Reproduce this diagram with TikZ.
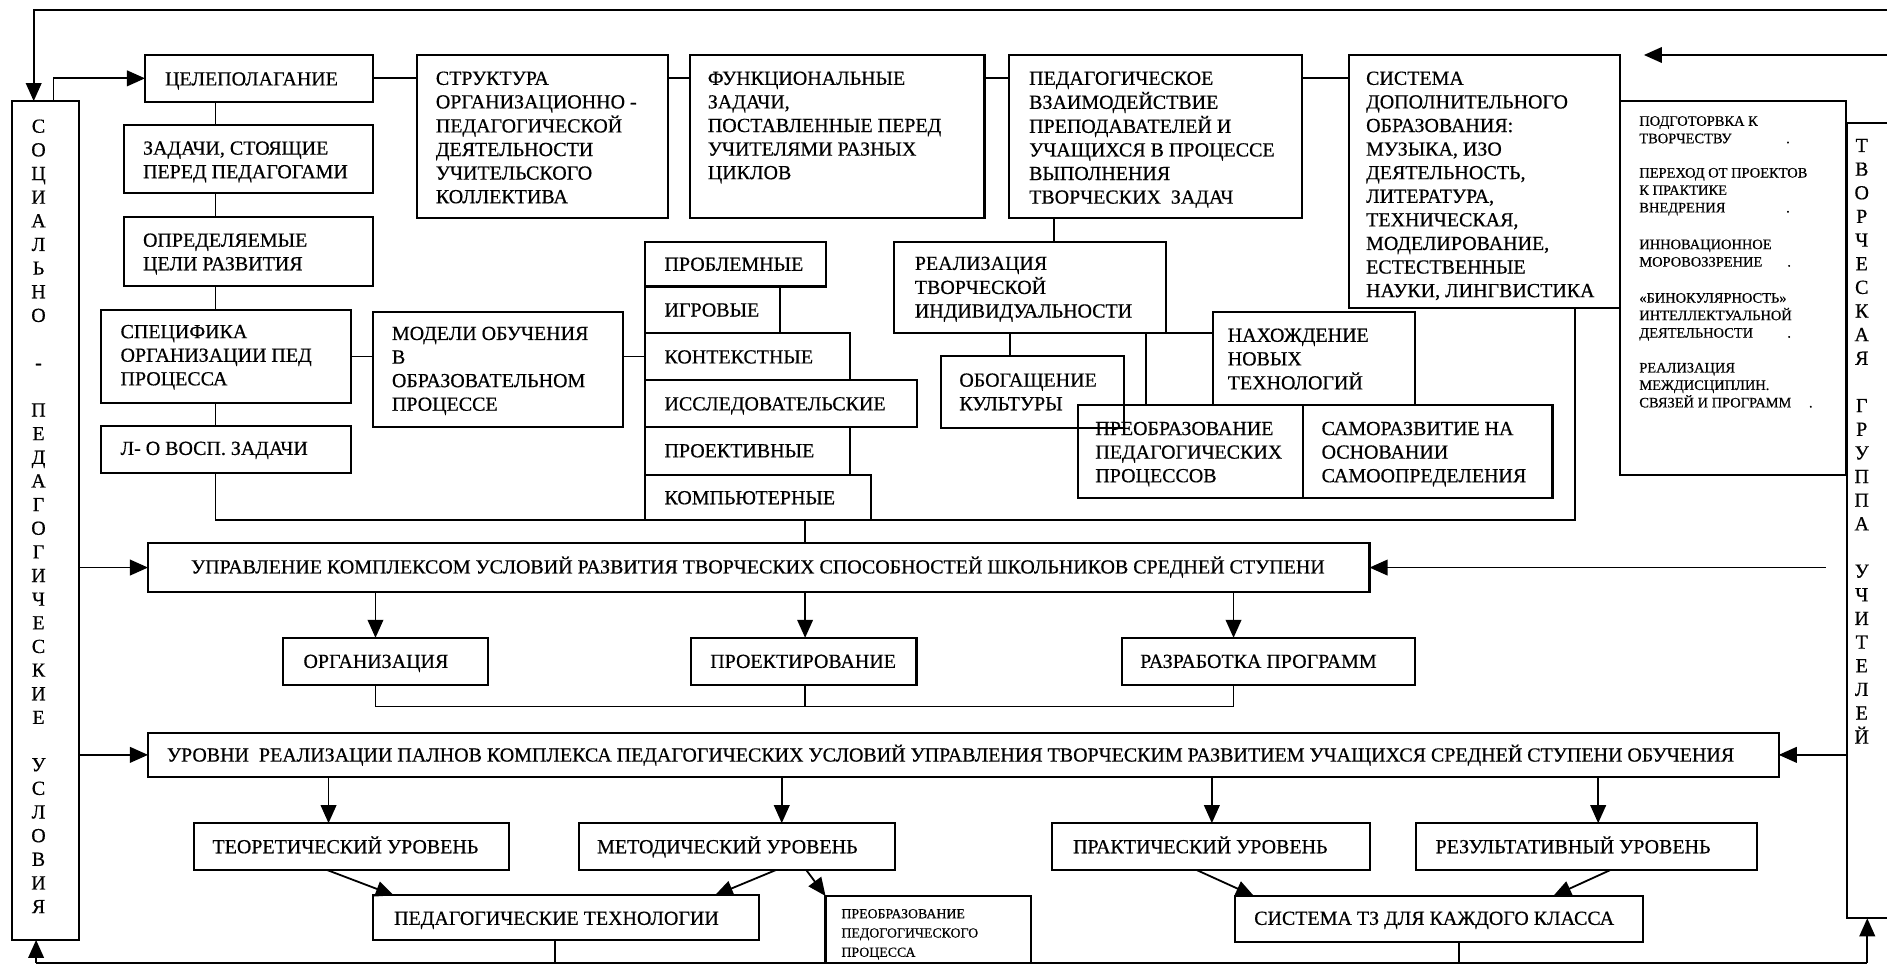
\documentclass[tikz,border=0pt]{standalone}
\usepackage{fontspec}
\setmainfont{Liberation Serif}[FakeBold=0.5]
\usetikzlibrary{arrows.meta,calc}
\newcommand{\tl}[1]{\begin{tabular}[t]{@{}l@{}}#1\end{tabular}}
\newcommand{\tc}[1]{\begin{tabular}[t]{@{}c@{}}#1\end{tabular}}
\newcommand{\bx}[5]{\node[box, minimum width={(#4)-(#2)}, minimum height={(#5)-(#3)}] (#1) at ({((#2)+(#4))/2},{((#3)+(#5))/2}) {};}
\tikzset{
  box/.style={draw, line width=1.8pt, inner sep=0pt, outer sep=0pt, rectangle},
  ln/.style={line width=1.5pt},
  arr/.style={line width=1.5pt, -{Triangle[length=15pt,width=13pt]}},
  txt/.style={inner sep=0pt, anchor=base west, font=\fontsize{16.6}{19.6}\selectfont},
  stxt/.style={inner sep=0pt, anchor=base west, font=\fontsize{12}{14.5}\selectfont},
  vtxt/.style={inner sep=0pt, anchor=base, font=\fontsize{16.6}{19.65}\selectfont},
}
\begin{document}
\begin{tikzpicture}[x=1pt,y=-1pt]
\useasboundingbox (0,0) rectangle (1568,803.5);
\clip (0,0) rectangle (1568,803.5);
% ---------- boxes ----------
\bx{cel}{120.5}{45.7}{310}{84.5}
\bx{str}{346.7}{45.7}{555}{181}
\bx{fun}{573.5}{45.7}{818}{181}
\bx{ped}{838.6}{45.7}{1082}{181}
\bx{sis}{1120.6}{45.7}{1346}{256}
\bx{lst}{1346}{84}{1534}{395}
\bx{zad}{103}{104}{310}{160.7}
\bx{opr}{103}{180}{310}{237.6}
\bx{spec}{84}{257.6}{292}{335}
\bx{lo}{84}{354}{292}{393}
\bx{mod}{310}{259}{518}{355}
\bx{prob}{536}{200.8}{686.5}{238}
\bx{igr}{536}{238}{648}{277}
\bx{kont}{536}{277}{706}{316}
\bx{issl}{536}{316}{762}{354.6}
\bx{prkt}{536}{354.6}{706}{394.7}
\bx{komp}{536}{394.7}{724}{432}
\bx{real}{743}{200.8}{968.6}{277}
\bx{obog}{782}{296}{934}{355.7}
\bx{nah}{1008}{259}{1176}{336.6}
\bx{preob}{896}{336.6}{1083}{414}
\bx{sam}{1083}{336.6}{1290}{414}
\bx{upr}{123}{451.5}{1138}{491.7}
\bx{org}{235}{530}{405.4}{569}
\bx{proj}{574}{530}{761.5}{569}
\bx{razr}{932}{530}{1176}{569}
\bx{urov}{123}{608.8}{1478}{645.7}
\bx{teor}{161}{684}{423}{723}
\bx{metod}{481}{684}{744}{723}
\bx{prakt}{874}{684}{1138.5}{723}
\bx{rez}{1176.7}{684}{1459.7}{723}
\bx{ptech}{309.7}{744}{630.5}{781}
\bx{preob2}{686}{744.5}{856.4}{800}
\bx{stz}{1026}{744.6}{1365}{782.5}
\bx{L}{10}{84}{65.5}{781}
\bx{R}{1535}{102}{1600}{763}
% ---------- texts ----------
\node[txt] (tcel) at (137,71) {\tl{ЦЕЛЕПОЛАГАНИЕ}};
\node[txt] (tstr) at (362,70.5) {\tl{СТРУКТУРА\\ОРГАНИЗАЦИОННО -\\ПЕДАГОГИЧЕСКОЙ\\ДЕЯТЕЛЬНОСТИ\\УЧИТЕЛЬСКОГО\\КОЛЛЕКТИВА}};
\node[txt] (tfun) at (588,70.5) {\tl{ФУНКЦИОНАЛЬНЫЕ\\ЗАДАЧИ,\\ПОСТАВЛЕННЫЕ ПЕРЕД\\УЧИТЕЛЯМИ РАЗНЫХ\\ЦИКЛОВ}};
\node[txt] (tped) at (855,70.5) {\tl{ПЕДАГОГИЧЕСКОЕ\\ВЗАИМОДЕЙСТВИЕ\\ПРЕПОДАВАТЕЛЕЙ И\\УЧАЩИХСЯ В ПРОЦЕССЕ\\ВЫПОЛНЕНИЯ\\ТВОРЧЕСКИХ~ ЗАДАЧ}};
\node[txt] (tsis) at (1135,70.5) {\tl{СИСТЕМА\\ДОПОЛНИТЕЛЬНОГО\\ОБРАЗОВАНИЯ:\\МУЗЫКА, ИЗО\\ДЕЯТЕЛЬНОСТЬ,\\ЛИТЕРАТУРА,\\ТЕХНИЧЕСКАЯ,\\МОДЕЛИРОВАНИЕ,\\ЕСТЕСТВЕННЫЕ\\НАУКИ, ЛИНГВИСТИКА}};
\node[txt] (tzad) at (118.7,128.5) {\tl{ЗАДАЧИ, СТОЯЩИЕ\\ПЕРЕД ПЕДАГОГАМИ}};
\node[txt] (topr) at (118.7,205) {\tl{ОПРЕДЕЛЯЕМЫЕ\\ЦЕЛИ РАЗВИТИЯ}};
\node[txt] (tspec) at (100,281) {\tl{СПЕЦИФИКА\\ОРГАНИЗАЦИИ ПЕД\\ПРОЦЕССА}};
\node[txt] (tlo) at (100,378) {\tl{Л- О ВОСП. ЗАДАЧИ}};
\node[txt] (tmod) at (325.5,282.5) {\tl{МОДЕЛИ ОБУЧЕНИЯ\\В\\ОБРАЗОВАТЕЛЬНОМ\\ПРОЦЕССЕ}};
\node[txt] (tprob) at (552,225) {ПРОБЛЕМНЫЕ};
\node[txt] (tigr) at (552,263) {ИГРОВЫЕ};
\node[txt] (tkont) at (552,302) {КОНТЕКСТНЫЕ};
\node[txt] (tissl) at (552,341) {ИССЛЕДОВАТЕЛЬСКИЕ};
\node[txt] (tprkt) at (552,380) {ПРОЕКТИВНЫЕ};
\node[txt] (tkomp) at (552,419) {КОМПЬЮТЕРНЫЕ};
\node[txt] (treal) at (760,224.3) {\tl{РЕАЛИЗАЦИЯ\\ТВОРЧЕСКОЙ\\ИНДИВИДУАЛЬНОСТИ}};
\node[txt] (tobog) at (797,321.3) {\tl{ОБОГАЩЕНИЕ\\КУЛЬТУРЫ}};
\node[txt] (tnah) at (1020,284) {\tl{НАХОЖДЕНИЕ\\НОВЫХ\\ТЕХНОЛОГИЙ}};
\node[txt] (tpreob) at (910,361.5) {\tl{ПРЕОБРАЗОВАНИЕ\\ПЕДАГОГИЧЕСКИХ\\ПРОЦЕССОВ}};
\node[txt] (tsam) at (1098,361.5) {\tl{САМОРАЗВИТИЕ НА\\ОСНОВАНИИ\\САМООПРЕДЕЛЕНИЯ}};
\node[stxt] (l1) at (1362,104.5) {\tl{ПОДГОТОРВКА К\\\makebox[122pt][l]{ТВОРЧЕСТВУ}.}};
\node[stxt] (l2) at (1362,147.5) {\tl{ПЕРЕХОД ОТ ПРОЕКТОВ\\К ПРАКТИКЕ\\\makebox[122pt][l]{ВНЕДРЕНИЯ}.}};
\node[stxt] (l3) at (1362,207) {\tl{ИННОВАЦИОННОЕ\\\makebox[123pt][l]{МОРОВОЗЗРЕНИЕ}.}};
\node[stxt] (l4) at (1362,251.5) {\tl{«БИНОКУЛЯРНОСТЬ»\\ИНТЕЛЛЕКТУАЛЬНОЙ\\\makebox[123pt][l]{ДЕЯТЕЛЬНОСТИ}.}};
\node[stxt] (l5) at (1362,309.5) {\tl{РЕАЛИЗАЦИЯ\\МЕЖДИСЦИПЛИН.\\\makebox[141pt][l]{СВЯЗЕЙ И ПРОГРАММ}.}};
\node[txt] (tupr) at (158.6,476.5) {УПРАВЛЕНИЕ КОМПЛЕКСОМ УСЛОВИЙ РАЗВИТИЯ ТВОРЧЕСКИХ СПОСОБНОСТЕЙ ШКОЛЬНИКОВ СРЕДНЕЙ СТУПЕНИ};
\node[txt] (torg) at (252,555) {ОРГАНИЗАЦИЯ};
\node[txt] (tproj) at (590,555) {ПРОЕКТИРОВАНИЕ};
\node[txt] (trazr) at (947.3,555) {РАЗРАБОТКА ПРОГРАММ};
\node[txt] (turov) at (138.5,632.8) {УРОВНИ~ РЕАЛИЗАЦИИ ПАЛНОВ КОМПЛЕКСА ПЕДАГОГИЧЕСКИХ УСЛОВИЙ УПРАВЛЕНИЯ ТВОРЧЕСКИМ РАЗВИТИЕМ УЧАЩИХСЯ СРЕДНЕЙ СТУПЕНИ ОБУЧЕНИЯ};
\node[txt] (tteor) at (176.4,709) {ТЕОРЕТИЧЕСКИЙ УРОВЕНЬ};
\node[txt] (tmetod) at (496,709) {МЕТОДИЧЕСКИЙ УРОВЕНЬ};
\node[txt] (tprakt) at (891.5,709) {ПРАКТИЧЕСКИЙ УРОВЕНЬ};
\node[txt] (trez) at (1192.7,709) {РЕЗУЛЬТАТИВНЫЙ УРОВЕНЬ};
\node[txt] (tptech) at (327.3,768.5) {ПЕДАГОГИЧЕСКИЕ ТЕХНОЛОГИИ};
\node[txt] (tstz) at (1042,768.5) {СИСТЕМА ТЗ ДЛЯ КАЖДОГО КЛАССА};
\node[inner sep=0pt, anchor=base west, font=\fontsize{11.5}{16}\selectfont] (tpreob2) at (699,763) {\tl{ПРЕОБРАЗОВАНИЕ\\ПЕДОГОГИЧЕСКОГО\\ПРОЦЕССА}};
\node[vtxt] (tL) at (32,110.3) {\tc{С\\О\\Ц\\И\\А\\Л\\Ь\\Н\\О\\ \\-\\ \\П\\Е\\Д\\А\\Г\\О\\Г\\И\\Ч\\Е\\С\\К\\И\\Е\\ \\У\\С\\Л\\О\\В\\И\\Я}};
\node[vtxt] (tR) at (1547,126.3) {\tc{Т\\В\\О\\Р\\Ч\\Е\\С\\К\\А\\Я\\ \\Г\\Р\\У\\П\\П\\А\\ \\У\\Ч\\И\\Т\\Е\\Л\\Е\\Й}};
% ---------- helper coordinates ----------
\coordinate (tr) at (1580,8.3);
\coordinate (tra) at (1580,45.7);
\coordinate (trb) at (1366,45.7);
\coordinate (sx) at (179,0);
\coordinate (bk) at (1309,432);
\coordinate (mx) at (669,432);
\coordinate (c1) at (876,0);
\coordinate (c2) at (839,0);
\coordinate (c3) at (952,0);
\coordinate (ra) at (1517,471.6);
\coordinate (a1) at (312,0);
\coordinate (a3) at (1025,0);
\coordinate (jn) at (669,587);
\coordinate (u1) at (273,0);
\coordinate (u2) at (649.6,0);
\coordinate (u3) at (1007,0);
\coordinate (u4) at (1328,0);
\coordinate (bl) at (30,800);
\coordinate (br) at (1551.6,800);
\coordinate (pt) at (461,800);
\coordinate (st) at (1212.6,800);
% ---------- connectors ----------
\draw[arr] (tr) -| ($(L.north west)+(18,0)$);
\draw[arr] ($(L.north west)+(34.5,0)$) |- (cel.west);
\draw[arr] (tra) -- (trb);
\draw[ln] (cel.east) -- (cel.east -| str.west);
\draw[ln] (str.east |- cel.east) -- (fun.west |- cel.east);
\draw[ln] (fun.east |- cel.east) -- (ped.west |- cel.east);
\draw[ln] (ped.east |- cel.east) -- (sis.west |- cel.east);
\draw[ln] (cel.south -| sx) -- (zad.north -| sx);
\draw[ln] (zad.south -| sx) -- (opr.north -| sx);
\draw[ln] (opr.south -| sx) -- (spec.north -| sx);
\draw[ln] (spec.south -| sx) -- (lo.north -| sx);
\draw[ln] (lo.south -| sx) |- (bk) -- (sis.south -| bk);
\draw[ln] (spec.east) -- (mod.west |- spec.east);
\draw[ln] (mod.east |- spec.east) -- (kont.west |- spec.east);
\draw[ln] (mx) -- (upr.north -| mx);
\draw[ln] (ped.south -| c1) -- (real.north -| c1);
\draw[ln] (real.south -| c2) -- (obog.north -| c2);
\draw[ln] (real.south east) -- (real.south east -| nah.west);
\draw[ln] (real.south -| c3) -- (preob.north -| c3);
\draw[arr] (L.east |- upr.west) -- (upr.west);
\draw[arr] (ra) -- (upr.east |- ra);
\draw[arr] (upr.south -| a1) -- (org.north -| a1);
\draw[arr] (upr.south -| mx) -- (proj.north -| mx);
\draw[arr] (upr.south -| a3) -- (razr.north -| a3);
\draw[ln] (org.south -| a1) |- (jn) -| (razr.south -| a3);
\draw[ln] (proj.south -| jn) -- (jn);
\draw[arr] (L.east |- urov.west) -- (urov.west);
\draw[arr] (R.west |- urov.east) -- (urov.east);
\draw[arr] (urov.south -| u1) -- (teor.north -| u1);
\draw[arr] (urov.south -| u2) -- (metod.north -| u2);
\draw[arr] (urov.south -| u3) -- (prakt.north -| u3);
\draw[arr] (urov.south -| u4) -- (rez.north -| u4);
\draw[arr] ($(teor.south west)+(111,0)$) -- ($(ptech.north west)+(17.6,0)$);
\draw[arr] ($(metod.south west)+(163.6,0)$) -- ($(ptech.north west)+(284.3,0)$);
\draw[arr] ($(metod.south west)+(189,0)$) -- (preob2.north west);
\draw[arr] ($(prakt.south west)+(120.5,0)$) -- ($(stz.north west)+(16,0)$);
\draw[arr] ($(rez.south west)+(161.3,0)$) -- ($(stz.north west)+(264.6,0)$);
\draw[ln] (bl) -- (br);
\draw[arr] (bl) -- (L.south -| bl);
\draw[arr] (br) -- (R.south -| br);
\draw[ln] (ptech.south -| pt) -- (pt);
\draw[ln] (stz.south -| st) -- (st);
\end{tikzpicture}
\end{document}
